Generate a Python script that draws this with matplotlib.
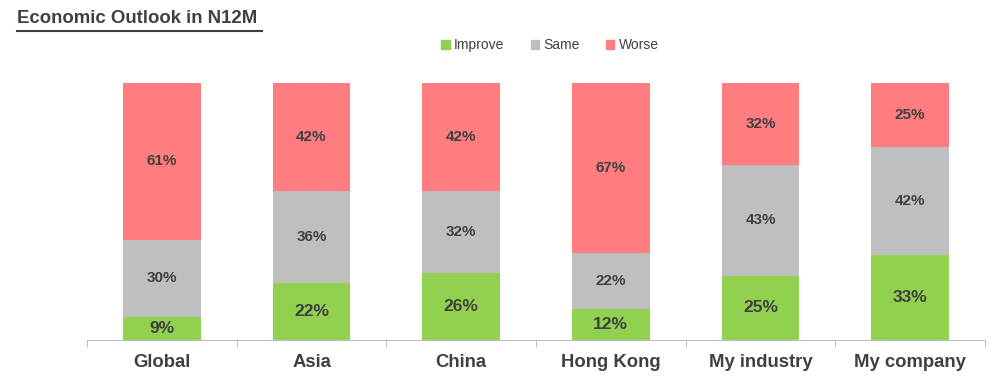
import numpy as np
import matplotlib
matplotlib.use("Agg")
import matplotlib.pyplot as plt
from matplotlib.patches import Patch

categories = ["Global", "Asia", "China", "Hong Kong", "My industry", "My company"]
improve = [9, 22, 26, 12, 25, 33]
same = [30, 36, 32, 22, 43, 42]
worse = [61, 42, 42, 67, 32, 25]

series = [("Improve", improve, "#92D050", 12.5),
          ("Same", same, "#BFBFBF", 11),
          ("Worse", worse, "#FF7C80", 11)]

txt = "#404040"
plt.rcParams['font.family'] = ['Liberation Sans', 'DejaVu Sans']

fig = plt.figure(figsize=(10, 3.85), dpi=100)
ax = fig.add_axes([0.087, 0.117, 0.898, 0.6675])

totals = np.array(improve) + np.array(same) + np.array(worse)
x = np.arange(len(categories))
bottom = np.zeros(len(categories))
for name, vals, col, fs in series:
    h = np.array(vals) / totals * 100
    ax.bar(x, h, 0.52, bottom=bottom, color=col, label=name)
    for xi, b, hi, v in zip(x, bottom, h, vals):
        ax.text(xi, b + hi / 2, "%d%%" % v, ha="center", va="center",
                fontsize=fs, fontweight="bold", color=txt)
    bottom += h

ax.set_xlim(-0.5, len(categories) - 0.5)
ax.set_ylim(0, 100)
ax.set_yticks([])
for s in ["left", "right", "top"]:
    ax.spines[s].set_visible(False)
ax.spines["bottom"].set_color("#BFBFBF")
ax.set_xticks(np.arange(-0.5, len(categories), 1.0))
ax.set_xticklabels([])
ax.tick_params(axis="x", direction="out", length=5, color="#BFBFBF")
for xi, c in zip(x, categories):
    ax.text(xi, -5.5, c, ha="center", va="top", fontsize=13.3, fontweight="bold",
            color=txt)

handles = [Patch(color=c, label=n) for n, _, c, _ in series]
fig.legend(handles=handles, loc="center", bbox_to_anchor=(0.55, 0.883),
           ncol=3, frameon=False, fontsize=10, handlelength=0.6, handleheight=0.6,
           handletextpad=0.3, columnspacing=1.9, labelcolor=txt)

fig.text(0.017, 0.953, "Economic Outlook in N12M", fontsize=13.4, fontweight="bold",
         color=txt, va="center", ha="left")
fig.add_artist(plt.Line2D([0.017, 0.262], [0.92, 0.92], color=txt, lw=1.5,
                          transform=fig.transFigure))

fig.savefig("out.png", dpi=100)
